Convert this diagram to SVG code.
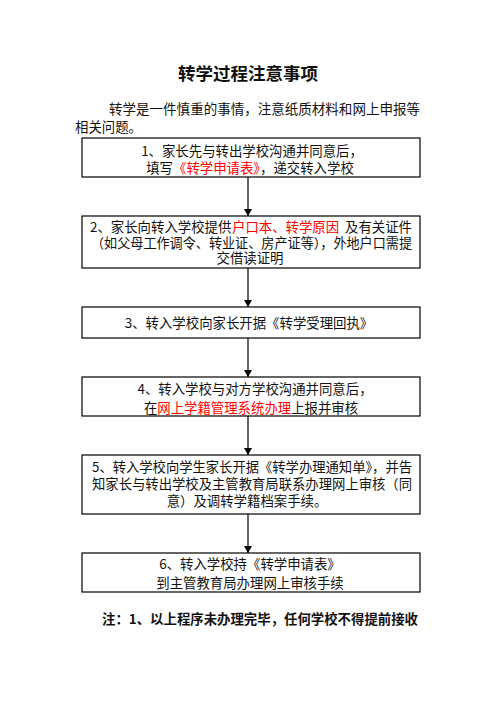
<svg xmlns="http://www.w3.org/2000/svg" width="496" height="702" viewBox="0 0 496 702">
<style>
text{font-family:"Noto Sans CJK SC","Noto Sans",sans-serif;fill:#111;font-size:13.4px}
.t{font-size:17.5px;font-weight:bold}
.n{font-size:13.4px;font-weight:bold}
.r{fill:#f00}
.box{fill:#fff;stroke:#000;stroke-width:1.2}
.c{text-anchor:middle}
.ln{stroke:#000;stroke-width:1.2;fill:none}
</style>
<defs>
<marker id="ah" markerWidth="7" markerHeight="8" refX="7" refY="4" orient="auto" markerUnits="userSpaceOnUse">
<path d="M0,0 L7,4 L0,8 z" fill="#000"/>
</marker>
</defs>
<rect width="496" height="702" fill="#fff"/>
<text class="t c" x="248" y="80">转学过程注意事项</text>
<text x="109" y="114" textLength="311" lengthAdjust="spacingAndGlyphs">转学是一件慎重的事情，注意纸质材料和网上申报等</text>
<text x="75" y="132">相关问题。</text>
<g id="connectors">
<line class="ln" x1="248" y1="177" x2="248" y2="216" marker-end="url(#ah)"/>
<line class="ln" x1="248" y1="268" x2="248" y2="307" marker-end="url(#ah)"/>
<line class="ln" x1="248" y1="338" x2="248" y2="377" marker-end="url(#ah)"/>
<line class="ln" x1="248" y1="416" x2="248" y2="455" marker-end="url(#ah)"/>
<line class="ln" x1="248" y1="514" x2="248" y2="553" marker-end="url(#ah)"/>
</g>
<g id="n1">
<rect class="box" x="82" y="138" width="338" height="39"/>
<text class="c" x="252" y="155.5">1、家长先与转出学校沟通并同意后，</text>
<text class="c" x="250" y="172.5">填写<tspan class="r">《转学申请表》</tspan>，递交转入学校</text>
</g>
<g id="n2">
<rect class="box" x="82" y="216" width="338" height="52"/>
<text x="90" y="232">2、家长向转入学校提供</text>
<text class="r" x="232" y="232">户口本、转学原因</text>
<text x="345" y="232">及有关证件</text>
<text x="91" y="248" textLength="321" lengthAdjust="spacingAndGlyphs">（如父母工作调令、转业证、房产证等），外地户口需提</text>
<text class="c" x="250" y="263">交借读证明</text>
</g>
<g id="n3">
<rect class="box" x="82" y="307" width="338" height="31"/>
<text class="c" x="249" y="328">3、转入学校向家长开据《转学受理回执》</text>
</g>
<g id="n4">
<rect class="box" x="82" y="377" width="338" height="39"/>
<text class="c" x="255" y="394">4、转入学校与对方学校沟通并同意后，</text>
<text class="c" x="251" y="412.5">在<tspan class="r">网上学籍管理系统办理</tspan>上报并审核</text>
</g>
<g id="n5">
<rect class="box" x="82" y="455" width="338" height="59"/>
<text x="92" y="472" textLength="320" lengthAdjust="spacingAndGlyphs">5、转入学校向学生家长开据《转学办理通知单》，并告</text>
<text x="92" y="489" textLength="320" lengthAdjust="spacingAndGlyphs">知家长与转出学校及主管教育局联系办理网上审核（同</text>
<text class="c" x="247" y="506">意）及调转学籍档案手续。</text>
</g>
<g id="n6">
<rect class="box" x="82" y="553" width="338" height="39"/>
<text class="c" x="250" y="569">6、转入学校持《转学申请表》</text>
<text class="c" x="250" y="587.5">到主管教育局办理网上审核手续</text>
</g>
<text class="n" x="102" y="624" textLength="316" lengthAdjust="spacingAndGlyphs">注：1、以上程序未办理完毕，任何学校不得提前接收</text>
</svg>
